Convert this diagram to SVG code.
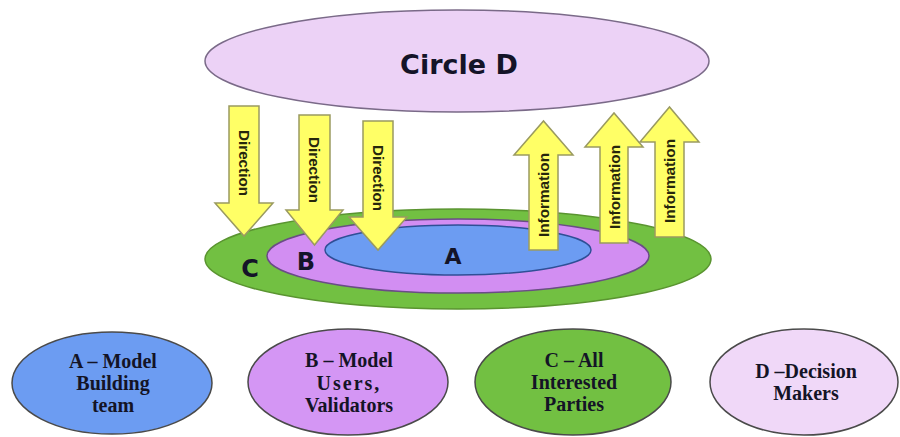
<svg xmlns="http://www.w3.org/2000/svg" width="900" height="437" viewBox="0 0 900 437">
<style>
.arrow{fill:#ffff66;stroke:#9a9a60;stroke-width:1.5;stroke-linejoin:miter}
.atext{font-family:"Liberation Sans",Arial,sans-serif;font-weight:bold;font-size:15px;fill:#26260c;text-anchor:middle;dominant-baseline:central}
.big{font-family:"DejaVu Sans","Liberation Sans",sans-serif;font-weight:bold;fill:#141428;text-anchor:middle}
.key{font-family:"Liberation Serif","Times New Roman",serif;font-weight:bold;font-size:20px;fill:#141426;text-anchor:middle}
.kst{stroke:#4a4a4a;stroke-width:1.5}
</style>
<rect width="900" height="437" fill="#ffffff"/>
<g id="circleD">
<ellipse cx="457" cy="61" rx="252" ry="51" fill="#ecd2f6" stroke="#7a6a88" stroke-width="1.5"/>
<text class="big" x="459" y="74" font-size="27">Circle D</text>
</g>
<g id="ringC">
<ellipse cx="458" cy="259" rx="253" ry="50" fill="#72c042" stroke="#5a9430" stroke-width="1.5"/>
<text class="big" x="250" y="277" font-size="24">C</text>
</g>
<g id="ringB">
<ellipse cx="458" cy="256" rx="191" ry="37" fill="#d28ef2" stroke="#6a4c86" stroke-width="1.5"/>
<text class="big" x="306" y="270" font-size="24">B</text>
</g>
<g id="ringA">
<ellipse cx="458" cy="250" rx="133" ry="25" fill="#6c9cf2" stroke="#2f4f96" stroke-width="1.5"/>
<text class="big" x="453" y="264" font-size="22">A</text>
</g>
<g id="connectors">
<path class="arrow" d="M229,106 H259 V203 H273 L244,236 L215,203 H229 Z"/>
<text class="atext" transform="translate(244,163) rotate(90)" textLength="66" lengthAdjust="spacingAndGlyphs">Direction</text>
<path class="arrow" d="M299,115 H330 V210 H343 L314.5,245 L286,210 H299 Z"/>
<text class="atext" transform="translate(314.5,170) rotate(90)" textLength="66" lengthAdjust="spacingAndGlyphs">Direction</text>
<path class="arrow" d="M363,121 H393 V217 H407 L378,250 L349,217 H363 Z"/>
<text class="atext" transform="translate(378,178) rotate(90)" textLength="66" lengthAdjust="spacingAndGlyphs">Direction</text>
<path class="arrow" d="M529,250 H558 V155 H573 L543.5,121 L514,155 H529 Z"/>
<text class="atext" transform="translate(543.5,195) rotate(-90)" textLength="84" lengthAdjust="spacingAndGlyphs">Information</text>
<path class="arrow" d="M600,243 H628 V147 H643 L614,113 L585,147 H600 Z"/>
<text class="atext" transform="translate(614,187) rotate(-90)" textLength="84" lengthAdjust="spacingAndGlyphs">Information</text>
<path class="arrow" d="M655,237 H684 V142 H699 L669.5,107 L640,142 H655 Z"/>
<text class="atext" transform="translate(669.5,181) rotate(-90)" textLength="84" lengthAdjust="spacingAndGlyphs">Information</text>
</g>
<g id="keyA">
<ellipse class="kst" cx="112" cy="383" rx="100" ry="51" fill="#6c9cf2"/>
<text class="key" x="113" y="368">A – Model</text>
<text class="key" x="113" y="390">Building</text>
<text class="key" x="113" y="412">team</text>
</g>
<g id="keyB">
<ellipse class="kst" cx="348" cy="382" rx="100" ry="53" fill="#d496f4"/>
<text class="key" x="349" y="367">B – Model</text>
<text class="key" x="349" y="390" letter-spacing="2">Users,</text>
<text class="key" x="349" y="412">Validators</text>
</g>
<g id="keyC">
<ellipse class="kst" cx="573" cy="382" rx="98" ry="53" fill="#72c042"/>
<text class="key" x="574" y="367">C –  All</text>
<text class="key" x="574" y="389">Interested</text>
<text class="key" x="574" y="411">Parties</text>
</g>
<g id="keyD">
<ellipse class="kst" cx="804" cy="382" rx="94" ry="53" fill="#f0d8f8"/>
<text class="key" x="806" y="378">D –Decision</text>
<text class="key" x="806" y="400">Makers</text>
</g>
</svg>
